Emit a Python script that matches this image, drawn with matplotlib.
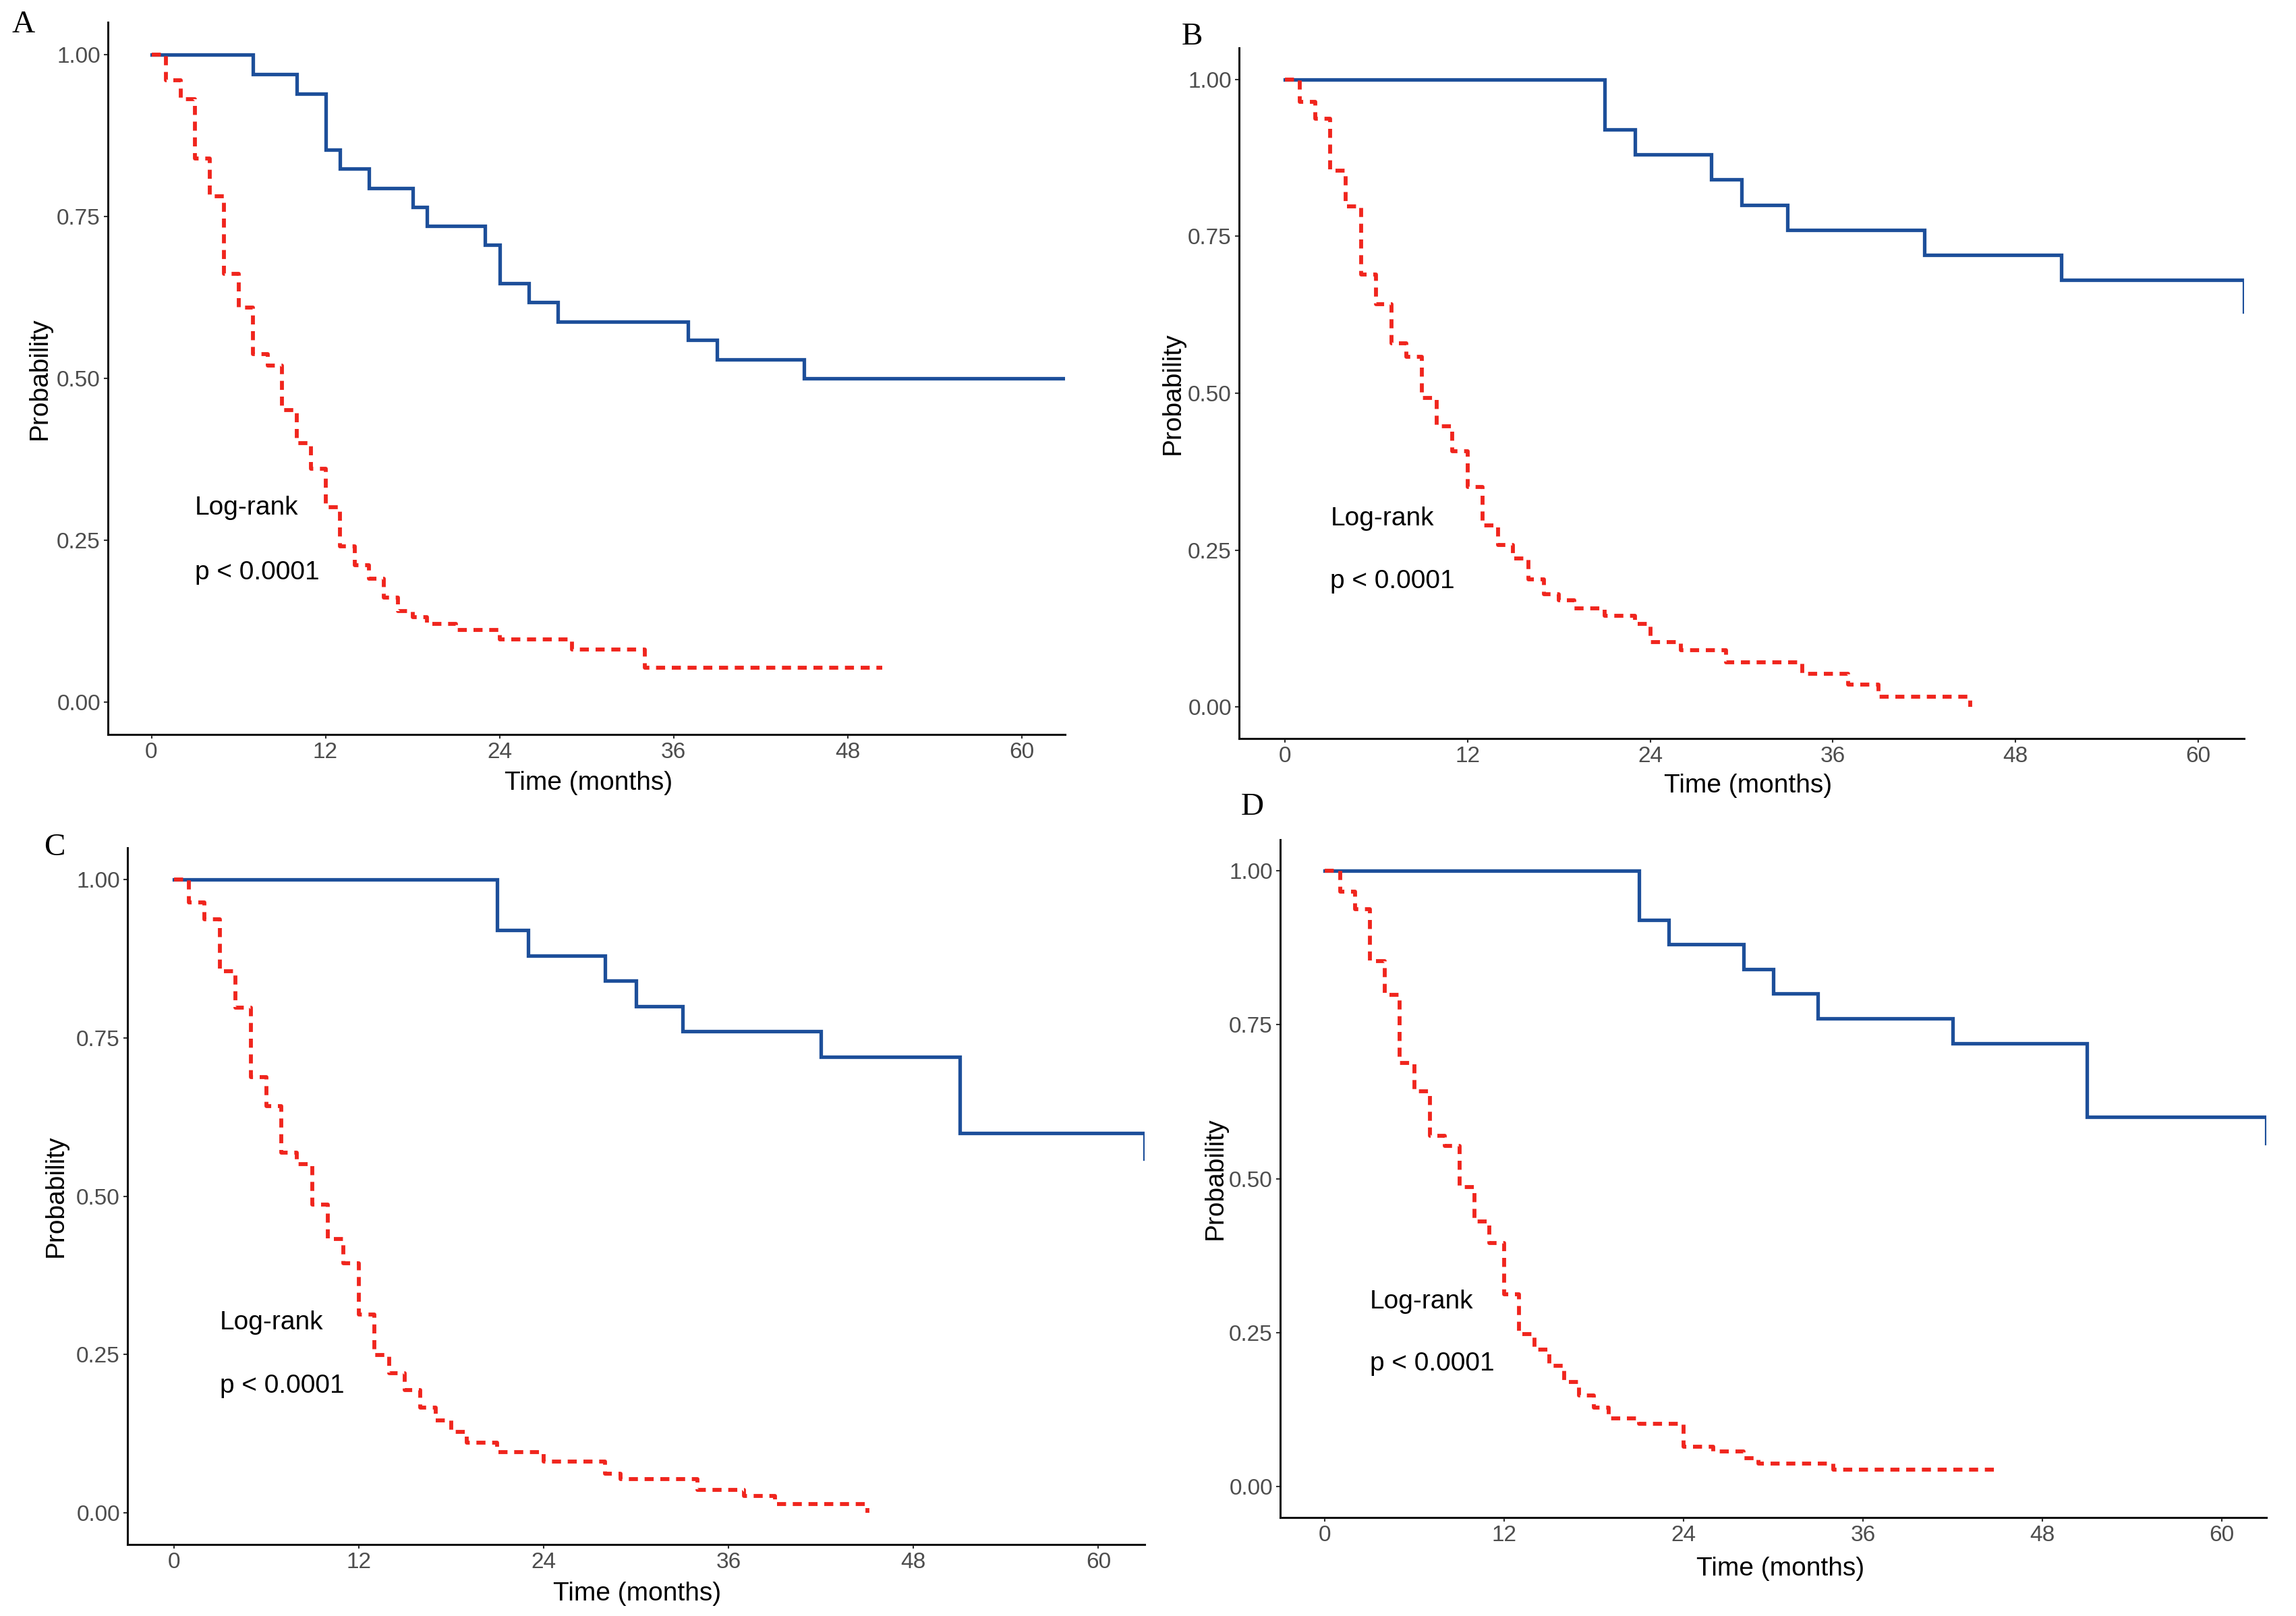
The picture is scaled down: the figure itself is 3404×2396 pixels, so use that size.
import numpy as np
import matplotlib
matplotlib.use("Agg")
import matplotlib.pyplot as plt

plt.rcParams['font.family'] = ['Liberation Sans', 'DejaVu Sans']

W, H = 3404, 2396

# --- data (months, survival probability) ---
a_blue_t = [0, 7, 10, 12, 13, 15, 18, 19, 23, 24, 26, 28, 37, 39, 45, 63]
a_blue_s = [1.0, 0.97, 0.94, 0.853, 0.824, 0.794, 0.765, 0.735, 0.706, 0.647, 0.618, 0.588, 0.559, 0.529, 0.5, 0.5]
a_red_t = [0, 1, 2, 3, 4, 5, 6, 7, 8, 9, 10, 11, 12, 13, 14, 15, 16, 17, 18, 19, 21, 24, 29, 34, 50.4]
a_red_s = [1.0, 0.960, 0.931, 0.840, 0.781, 0.661, 0.609, 0.538, 0.520, 0.451, 0.400, 0.360, 0.301, 0.241,
           0.211, 0.191, 0.161, 0.141, 0.131, 0.121, 0.111, 0.097, 0.081, 0.053, 0.053]

b_blue_t = [0, 21, 23, 28, 30, 33, 42, 51, 63, 63]
b_blue_s = [1.0, 0.92, 0.88, 0.84, 0.80, 0.76, 0.72, 0.68, 0.68, 0.63]
b_red_t = [0, 1, 2, 3, 4, 5, 6, 7, 8, 9, 10, 11, 12, 13, 14, 15, 16, 17, 18, 19, 21, 23, 24, 26, 29, 34, 37, 39, 45, 45]
b_red_s = [1.0, 0.964, 0.937, 0.855, 0.798, 0.689, 0.642, 0.579, 0.558, 0.493, 0.447, 0.408, 0.351, 0.289, 0.258,
           0.237, 0.203, 0.180, 0.170, 0.157, 0.145, 0.133, 0.104, 0.091, 0.071, 0.053, 0.036, 0.017, 0.017, 0.0]

c_blue_t = [0, 21, 23, 28, 30, 33, 42, 51, 63, 63]
c_blue_s = [1.0, 0.92, 0.88, 0.84, 0.80, 0.76, 0.72, 0.60, 0.60, 0.559]
c_red_t = [0, 1, 2, 3, 4, 5, 6, 7, 8, 9, 10, 11, 12, 13, 14, 15, 16, 17, 18, 19, 21, 24, 28, 29, 34, 37, 39, 45, 45]
c_red_s = [1.0, 0.964, 0.937, 0.855, 0.798, 0.688, 0.642, 0.569, 0.551, 0.487, 0.432, 0.394, 0.313, 0.249, 0.221,
           0.194, 0.166, 0.146, 0.128, 0.111, 0.096, 0.081, 0.062, 0.053, 0.036, 0.027, 0.014, 0.014, 0.0]

d_blue_t = [0, 21, 23, 28, 30, 33, 42, 51, 63, 63]
d_blue_s = [1.0, 0.92, 0.88, 0.84, 0.80, 0.76, 0.72, 0.60, 0.60, 0.557]
d_red_t = [0, 1, 2, 3, 4, 5, 6, 7, 8, 9, 10, 11, 12, 13, 14, 15, 16, 17, 18, 19, 21, 24, 26, 28, 29, 34, 45]
d_red_s = [1.0, 0.966, 0.937, 0.853, 0.798, 0.688, 0.642, 0.570, 0.553, 0.486, 0.431, 0.396, 0.312, 0.248, 0.222,
           0.196, 0.170, 0.148, 0.128, 0.111, 0.102, 0.065, 0.057, 0.046, 0.038, 0.028, 0.028]

x_ticks = [0, 12, 24, 36, 48, 60]
y_ticks = [0.0, 0.25, 0.5, 0.75, 1.0]
y_labels = ["0.00", "0.25", "0.50", "0.75", "1.00"]

BLUE = "#1d4f9a"
RED = "#f0251d"

fig = plt.figure(figsize=(W / 100, H / 100), dpi=100)

# panel boxes in pixels: left, top, right, bottom
panels = [
    ("A", (160, 33, 1579, 1089), a_blue_t, a_blue_s, a_red_t, a_red_s,
     (35, 37), 59, (873, 1161)),
    ("B", (1837, 71, 3327, 1095), b_blue_t, b_blue_s, b_red_t, b_red_s,
     (1767, 55), 1739, (2592, 1165)),
    ("C", (189, 1257, 1697, 2290), c_blue_t, c_blue_s, c_red_t, c_red_s,
     (81, 1257), 83, (945, 2363)),
    ("D", (1898, 1245, 3360, 2250), d_blue_t, d_blue_s, d_red_t, d_red_s,
     (1857, 1197), 1802, (2640, 2326)),
]

for name, box, bt, bs, rt, rs, lab_xy, ylab_x, xlab_xy in panels:
    l, t, r, b = box
    ax = fig.add_axes([l / W, 1 - b / H, (r - l) / W, (b - t) / H])
    ax.step(bt, bs, where='post', color=BLUE, lw=3.8, solid_joinstyle='miter')
    ax.step(rt, rs, where='post', color=RED, lw=4.2, dashes=(2.3, 1.7))
    ax.set_xlim(-3, 63)
    ax.set_ylim(-0.05, 1.05)
    ax.set_xticks(x_ticks)
    ax.set_yticks(y_ticks)
    ax.set_yticklabels(y_labels)
    for s in ['top', 'right']:
        ax.spines[s].set_visible(False)
    for s in ['left', 'bottom']:
        ax.spines[s].set_linewidth(2.2)
        ax.spines[s].set_color('#111111')
    ax.tick_params(direction='out', length=4, width=1.5, color='#333333',
                   labelsize=24, labelcolor='#4d4d4d', pad=4)
    ax.text(3, 0.30, "Log-rank", fontsize=28, va='center', ha='left')
    ax.text(3, 0.20, "p < 0.0001", fontsize=28, va='center', ha='left')

    fig.text(lab_xy[0] / W, 1 - lab_xy[1] / H, name, fontsize=34,
             family='Liberation Serif', ha='center', va='center')
    fig.text(ylab_x / W, 1 - (t + b) / 2 / H, "Probability", fontsize=28,
             rotation=90, ha='center', va='center')
    fig.text(xlab_xy[0] / W, 1 - xlab_xy[1] / H, "Time (months)", fontsize=28,
             ha='center', va='center')

fig.savefig("out.png", dpi=100)
